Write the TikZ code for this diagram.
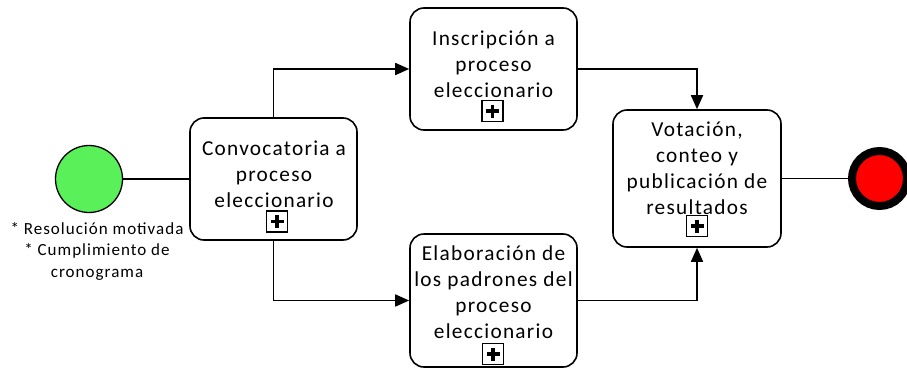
\documentclass[tikz,border=0pt]{standalone}
\usepackage{fontspec}
\newfontfamily\lbl{Carlito}[LetterSpace=6]
\usetikzlibrary{arrows.meta}
\definecolor{startgreen}{RGB}{90,240,90}
\definecolor{endred}{RGB}{255,0,0}
\begin{document}
\begin{tikzpicture}[x=1pt,y=-1pt,
  task/.style={draw, line width=1.6pt, rounded corners=14pt, fill=white, inner sep=0pt},
  txt/.style={align=center, font=\lbl\fontsize{21.3}{26}\selectfont, inner sep=0pt},
  anntxt/.style={align=center, font=\lbl\fontsize{17}{21.5}\selectfont, inner sep=0pt},
  plusbox/.style={draw, line width=1.3pt, minimum size=21pt, inner sep=0pt},
  plusbar/.style={line width=3.2pt},
  flow/.style={line width=1.7pt},
  arr/.style={flow, -{Triangle[length=14pt,width=12pt]}}]
\useasboundingbox (0,0) rectangle (907,372);
% events
\node[circle, draw, line width=1.3pt, fill=startgreen, minimum width=67pt, minimum height=62pt, inner sep=0pt] (start) at (89,179) {};
\node[circle, draw, line width=8pt, fill=endred, minimum size=55pt, inner sep=0pt] (endev) at (879.5,178.5) {};
% tasks
\node[task, minimum width=167pt, minimum height=122pt] (conv) at (273.5,179) {};
\node[task, minimum width=167pt, minimum height=122pt] (insc) at (493.5,69) {};
\node[task, minimum width=167pt, minimum height=133pt] (elab) at (493.5,300.5) {};
\node[task, minimum width=168pt, minimum height=137pt] (vot) at (697,178.5) {};
% texts
\node[txt] (tconv) at (274,174) {Convocatoria a\\proceso\\eleccionario};
\node[txt] (tinsc) at (493.5,64) {Inscripción a\\proceso\\eleccionario};
\node[txt] (telab) at (493.5,292.5) {Elaboración de\\los padrones del\\proceso\\eleccionario};
\node[txt] (tvot) at (697,168) {Votación,\\conteo y\\publicación de\\resultados};
\node[anntxt] (ann) at (97,251) {* Resolución motivada\\* Cumplimiento de\\cronograma};
% sub-process markers
\foreach \n/\x/\y in {mconv/277/221.5, minsc/492.5/111, melab/493/354, mvot/697/226}{
  \node[plusbox] (\n) at (\x,\y) {};
  \draw[plusbar] (\n.center) ++(-6.5,0) -- ++(13,0);
  \draw[plusbar] (\n.center) ++(0,-6.5) -- ++(0,13);
}
% flows
\draw[flow] (start) -- (conv);
\draw[arr] (conv.north) |- (insc.west);
\draw[arr] (conv.south) |- (elab.west);
\draw[arr] (insc.east) -| (vot.north);
\draw[arr] (elab.east) -| (vot.south);
\draw[flow] (vot) -- (endev);
\end{tikzpicture}
\end{document}
